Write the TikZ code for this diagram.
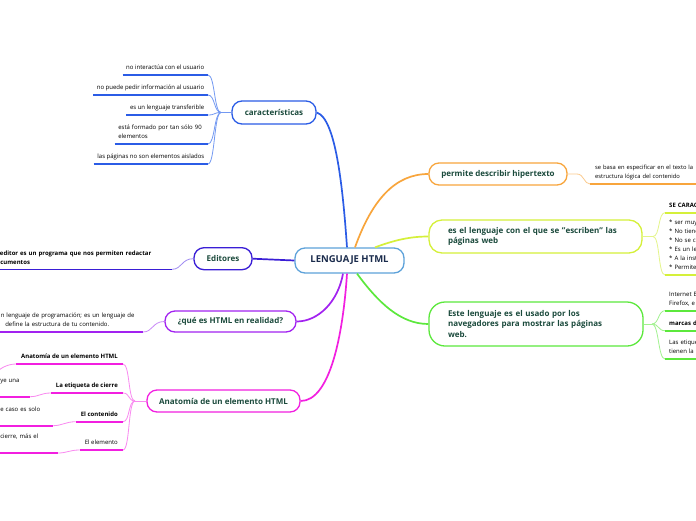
\documentclass[tikz,border=0pt]{standalone}
\usepackage{fontspec}
\setmainfont{Open Sans}
\usetikzlibrary{calc}
\definecolor{txt}{HTML}{1B4A3C}
\definecolor{ctxt}{HTML}{1A2B4C}
\definecolor{cblue}{HTML}{5DA2DA}
\definecolor{kblue}{HTML}{2B5CE6}
\definecolor{kblueL}{HTML}{7399F2}
\definecolor{eind}{HTML}{3A1ED6}
\definecolor{eindL}{HTML}{A08CF2}
\definecolor{qpur}{HTML}{A222F0}
\definecolor{qpurL}{HTML}{C98BF7}
\definecolor{amag}{HTML}{F21FE0}
\definecolor{amagL}{HTML}{F98AF0}
\definecolor{porg}{HTML}{F8A53C}
\definecolor{porgL}{HTML}{FBCB8E}
\definecolor{syel}{HTML}{D5F03A}
\definecolor{syelL}{HTML}{E4F58A}
\definecolor{tgrn}{HTML}{5CE83C}
\definecolor{tgrnL}{HTML}{A2F290}
\tikzset{
  box/.style={draw, rounded corners=10pt, line width=1.3pt, fill=white,
    font=\fontsize{8}{10.5}\selectfont\bfseries, text=txt, inner sep=0pt, align=center},
  leaffont/.style={font=\fontsize{6}{9}\selectfont},
  leafL/.style={leaffont, anchor=south east, inner xsep=3.5pt, inner ysep=3.5pt, text depth=1.5pt, text height=6pt, align=left},
  leafR/.style={leaffont, anchor=south west, inner xsep=4pt, inner ysep=3.5pt, text depth=1.5pt, text height=6pt, align=left},
  two/.style={text depth=10.5pt},
  bf/.style={font=\fontsize{6}{9}\selectfont\bfseries},
  trunk/.style={line width=1.7pt},
  twig/.style={line width=0.8pt},
  uline/.style={line width=1.6pt}
}
\begin{document}
\begin{tikzpicture}[x=1pt,y=-1pt]
\path[fill=white] (0,0) rectangle (696,520);
\useasboundingbox (0,0) rectangle (696,520);

% main boxes
\node[box, draw=cblue, text=ctxt, minimum width=109pt, minimum height=25pt,
  font=\fontsize{9.5}{11}\selectfont\bfseries] (C) at (349.5,260.5) {LENGUAJE HTML};
\node[box, draw=kblue, minimum width=84pt, minimum height=23pt] (K) at (274,112.5) {características};
\node[box, draw=eind, minimum width=58pt, minimum height=22pt] (E) at (223,258.7) {Editores};
\node[box, draw=qpur, minimum width=131pt, minimum height=21pt] (Q) at (230.5,321.5) {¿qué es HTML en realidad?};
\node[box, draw=amag, minimum width=153pt, minimum height=22pt] (A) at (223.5,401) {Anatomía de un elemento HTML};
\node[box, draw=porg, minimum width=138pt, minimum height=22pt] (P) at (498,174) {permite describir hipertexto};
\node[box, draw=syel, rounded corners=13pt, minimum height=33pt, text width=175pt, inner xsep=19pt, align=left] (S) at (535.5,236.5)
  {\mbox{es el lenguaje con el que se "escriben" las}\\páginas web};
\node[box, draw=tgrn, rounded corners=16pt, minimum height=44pt, text width=176pt, inner xsep=19pt, align=left] (T) at (536,324)
  {\mbox{Este lenguaje es el usado por los}\\\mbox{navegadores para mostrar las páginas}\\web.};

% trunk connectors
\draw[trunk, kblue] ($(C.north)+(-2.5,0)$) .. controls (343,190) and (336,118) .. (K.east);
\draw[trunk, porg] ($(C.north)+(5.5,0)$) .. controls (372,200) and (395,174) .. (P.west);
\draw[trunk, syel] ($(C.north)+(25.5,0)$) .. controls (395,240) and (410,236.5) .. (S.west);
\draw[trunk, tgrn] ($(C.south)+(7.5,0)$) .. controls (378,302) and (400,324) .. (T.west);
\draw[trunk, qpur] ($(C.south)+(-6.5,0)$) .. controls (338,302) and (318,321.5) .. (Q.east);
\draw[trunk, amag] ($(C.south)+(-2.5,0)$) .. controls (343,335) and (330,401) .. (A.east);
\draw[trunk, eind] (E.east) -- (C.west);

% caracteristicas leaves
\node[leafL] (K1) at (208,75) {no interactúa con el usuario};
\node[leafL] (K2) at (208,95) {no puede pedir información al usuario};
\node[leafL] (K3) at (208,115) {es un lenguaje transferible};
\node[leafL, text width=86pt, two] (K4) at (208,144) {está formado por tan sólo 90\\elementos};
\node[leafL] (K5) at (208,164) {las páginas no son elementos aislados};
\coordinate (KJ) at (221,112.5);
\draw[twig, kblueL] (K.west) -- (KJ);
\foreach \n in {K1,K2,K3,K4,K5}{
  \draw[twig, kblueL] (KJ) .. controls +(-7,0) and +(7,0) .. (\n.south east);
  \draw[uline, kblue] (\n.south west) -- (\n.south east);
}

% Editores leaf
\node[leafL, bf, two, text width=177pt, inner xsep=2pt] (E1) at (172,269.3)
  {El editor es un programa que nos permiten redactar\\documentos};
\draw[twig, eindL] (E.west) .. controls +(-12,0) and +(10,0) .. (E1.south east);
\draw[uline, eind] (E1.south west) -- (E1.south east);

% que es HTML leaf
\node[leafL, two, text width=141pt, inner xsep=1pt] (Q1) at (143,332)
  {n lenguaje de programación; es un lenguaje de\\\hspace*{4.5pt}define la estructura de tu contenido.};
\draw[twig, qpurL] (Q.west) .. controls +(-12,0) and +(10,0) .. (Q1.south east);
\draw[uline, qpur] (Q1.south west) -- (Q1.south east);

% Anatomia leaves
\node[leafL, bf, inner xsep=5pt] (A1) at (123,364) {Anatomía de un elemento HTML};
\node[leafL, bf, inner xsep=5pt] (A2) at (123,393) {La etiqueta de cierre};
\node[leafL, bf, inner xsep=5pt] (A3) at (123,421.7) {El contenido};
\node[leafL, inner xsep=5pt] (A4) at (123,450) {El elemento};
\coordinate (AJ) at (135,401);
\draw[twig, amagL] (A.west) -- (AJ);
\foreach \n in {A1,A2,A3,A4}{
  \draw[twig, amagL] (AJ) .. controls +(-7,0) and +(7,0) .. (\n.south east);
  \draw[uline, amag] (\n.south west) -- (\n.south east);
}
\coordinate (A1x) at (-4,373);
\draw[twig, amagL] (A1.south west) .. controls +(-8,0) and +(4,-5) .. (A1x);
\node[leafL, two, text width=29pt, inner xsep=0.5pt] (A2s) at (30,396.7) {ye una\\\mbox{}};
\node[leafL, two, text width=52pt, inner xsep=0.5pt] (A3s) at (53,425.7) {e caso es solo\\\mbox{}};
\node[leafL, two, text width=57pt, inner xsep=0.5pt] (A4s) at (58,453) {cierre, más el\\\mbox{}};
\foreach \a/\b in {A2/A2s,A3/A3s,A4/A4s}{
  \draw[twig, amagL] (\a.south west) .. controls +(-10,0) and +(9,0) .. (\b.south east);
  \draw[uline, amag] (\b.south west) -- (\b.south east);
}

% permite leaf
\node[leafR, two, inner xsep=5pt, text width=110pt, font=\fontsize{5.8}{9}\selectfont] (P1) at (590,184)
  {se basa en especificar en el texto la\\estructura lógica del contenido};
\coordinate (PJ) at (577,174);
\draw[twig, porgL] (P.east) -- (PJ) .. controls +(7,0) and +(-6,0) .. (P1.south west);
\draw[uline, porg] (P1.south west) -- (P1.south east);

% es el lenguaje leaves
\node[leafR, bf, text width=80pt] (S1) at (665,212.7) {SE CARAC};
\node[leafR, text width=80pt, text depth=46.5pt] (S2) at (665,275)
  {* ser muy\\{}* No tiene\\{}* No se c\\{}* Es un le\\{}* A la inst\\{}* Permite};
\coordinate (SJ) at (653,236.5);
\draw[twig, syelL] (S.east) -- (SJ);
\foreach \n in {S1,S2}{
  \draw[twig, syelL] (SJ) .. controls +(7,0) and +(-7,0) .. (\n.south west);
  \draw[uline, syel] (\n.south west) -- (\n.south east);
}

% Este lenguaje leaves
\node[leafR, two, text width=80pt] (T1) at (665,310.7) {Internet E\\Firefox, e};
\node[leafR, bf, text width=80pt] (T2) at (665,330.7) {marcas d};
\node[leafR, two, text width=80pt] (T3) at (665,359) {Las etique\\tienen la};
\coordinate (TJ) at (652,324);
\draw[twig, tgrnL] (T.east) -- (TJ);
\foreach \n in {T1,T2,T3}{
  \draw[twig, tgrnL] (TJ) .. controls +(7,0) and +(-7,0) .. (\n.south west);
  \draw[uline, tgrn] (\n.south west) -- (\n.south east);
}
\end{tikzpicture}
\end{document}
